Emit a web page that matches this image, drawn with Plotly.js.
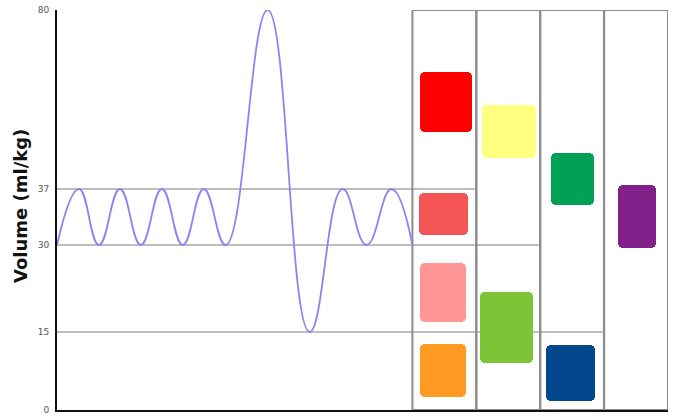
<!DOCTYPE html>
<html>
<head>
<meta charset="utf-8">
<script src="https://cdn.plot.ly/plotly-3.0.1.min.js"></script>
<style>html,body{margin:0;padding:0;background:#fff}#chart{width:677px;height:420px}</style>
</head>
<body>
<div id="chart"></div>
<script>
// ---- data ----
// breathing trace: time (arbitrary units) and volume (ml/kg) at each turning point
var waveTime   = [0, 22, 42, 63, 84, 105, 126, 147, 169, 211, 253, 286, 310, 335, 356];
var waveVolume = [30, 37, 30, 37, 30, 37, 30, 37, 30, 80, 15, 37, 30, 37, 30];

// y-axis tick labels (ml/kg)
var tickVolumes = [0, 15, 30, 37, 80];
var tickLabels  = ['0', '15', '30', '37', '80'];

// lung volume / capacity segments
var segLabels = ['IRV', 'TV', 'ERV', 'RV', 'IC', 'FRC', 'VC', 'RV', 'TLC'];
var segColumn = [0, 0, 0, 0, 1, 1, 2, 2, 3];
var segLow    = [37, 30, 15, 0, 30, 0, 15, 0, 0];
var segHigh   = [80, 37, 30, 15, 80, 30, 80, 15, 80];

// reference levels drawn across to a column edge
var levelVolumes = [37, 30, 15];
var levelLastCol = [0, 1, 2];

// ---- styles / layout ----
var tickPos = [0, 78, 165, 221, 400];        // display position of each tick volume
var segColors = ['#FF0000', '#F45454', '#FF9696', '#FF9A23', '#FFFF80', '#7FC436', '#00A055', '#03478F', '#81218A'];
var boxH  = [60, 42, 59, 53, 53, 71, 52, 56, 63];
var boxW  = [52, 49, 46, 46, 54, 53, 43, 49, 38];
var boxDx = [2, -0.5, -1, -1, 1, -1.5, 0.5, -1.5, 0.5];
var boxDy = [-2, 3, -3.5, 0.5, -3.5, 0.5, -8, -2, -6.5];
var colStart = 356, colWidth = 64, nCols = 4;

function volToPos(v) {
  for (var i = 0; i < tickVolumes.length - 1; i++) {
    if (v <= tickVolumes[i + 1]) {
      var f = (v - tickVolumes[i]) / (tickVolumes[i + 1] - tickVolumes[i]);
      return tickPos[i] + f * (tickPos[i + 1] - tickPos[i]);
    }
  }
  return tickPos[tickPos.length - 1];
}

var traces = [];
traces.push({
  type: 'scatter', mode: 'lines',
  x: waveTime, y: waveVolume.map(volToPos),
  customdata: waveVolume,
  hovertemplate: '%{customdata} ml/kg<extra></extra>',
  line: {color: '#8F82F2', width: 1.8, shape: 'spline', smoothing: 1.3},
  showlegend: false
});

var bx = [], bbase = [], bh = [], bwid = [], htext = [];
for (var i = 0; i < segLabels.length; i++) {
  var c = colStart + colWidth * (segColumn[i] + 0.5) + boxDx[i];
  var mid = (volToPos(segLow[i]) + volToPos(segHigh[i])) / 2 + boxDy[i];
  bx.push(c); bbase.push(mid - boxH[i] / 2); bh.push(boxH[i]); bwid.push(boxW[i]);
  htext.push(segLabels[i] + ': ' + segLow[i] + '–' + segHigh[i] + ' ml/kg');
}
traces.push({
  type: 'bar', x: bx, y: bh, base: bbase, width: bwid,
  hovertext: htext, hoverinfo: 'text',
  marker: {color: segColors, cornerradius: 5, line: {width: 0}},
  showlegend: false
});

var shapes = [];
for (var k = 0; k < levelVolumes.length; k++) {
  shapes.push({type: 'line', layer: 'below', xref: 'x', yref: 'y',
    x0: 0, x1: colStart + colWidth * (levelLastCol[k] + 1),
    y0: volToPos(levelVolumes[k]), y1: volToPos(levelVolumes[k]),
    line: {color: '#A8A8A8', width: 1.5}});
}
for (var j = 0; j < nCols; j++) {
  shapes.push({type: 'rect', layer: 'below', xref: 'x', yref: 'y',
    x0: colStart + colWidth * j, x1: colStart + colWidth * (j + 1),
    y0: 0, y1: 400,
    line: {color: '#8C8C8C', width: 2}, fillcolor: 'rgba(0,0,0,0)'});
}

var layout = {
  width: 677, height: 420,
  margin: {l: 57, r: 9, t: 10, b: 10, pad: 0},
  paper_bgcolor: '#fff', plot_bgcolor: '#fff',
  bargap: 0,
  font: {family: 'DejaVu Sans, sans-serif'},
  xaxis: {range: [0, colStart + colWidth * nCols], showgrid: false, zeroline: false,
    showticklabels: false, ticks: '', showline: true, linecolor: '#111', linewidth: 2, fixedrange: true},
  yaxis: {range: [0, 400], showgrid: false, zeroline: false,
    tickmode: 'array', tickvals: tickVolumes.map(volToPos), ticktext: tickLabels,
    tickfont: {size: 9, color: '#555', family: 'DejaVu Sans, sans-serif'},
    ticks: '', ticklabelstandoff: 4,
    showline: true, linecolor: '#111', linewidth: 2, fixedrange: true},
  shapes: shapes,
  annotations: [{
    text: '<b>Volume (ml/kg)</b>', textangle: -90, showarrow: false,
    xref: 'paper', yref: 'paper', x: (20 - 57) / 611, y: 0.51,
    xanchor: 'center', yanchor: 'middle',
    font: {size: 18, color: '#111', family: 'DejaVu Sans, sans-serif'}
  }],
  showlegend: false
};

Plotly.newPlot('chart', traces, layout, {displayModeBar: false, staticPlot: false});
</script>
</body>
</html>
